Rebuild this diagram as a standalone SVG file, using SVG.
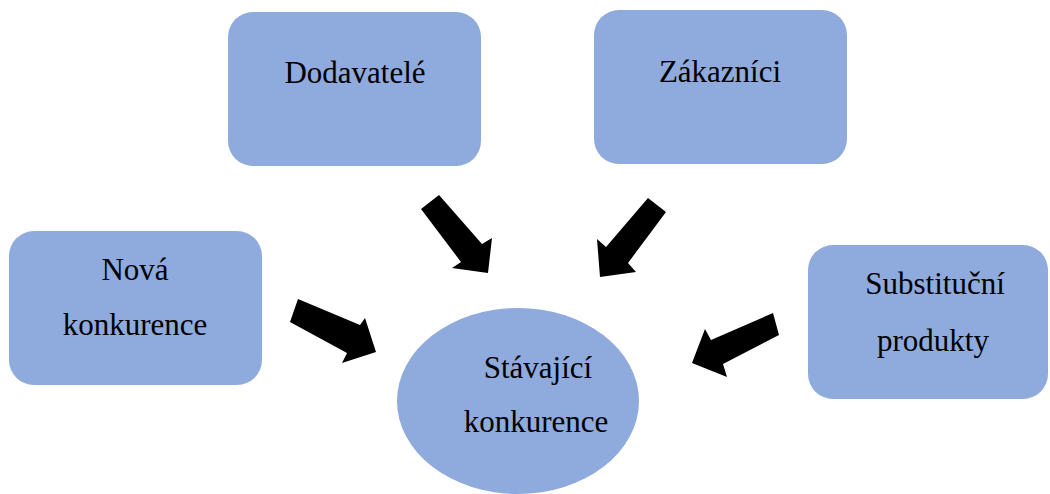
<svg xmlns="http://www.w3.org/2000/svg" width="1050" height="494" viewBox="0 0 1050 494">
<style>
.box{fill:#8FAADC;}
.t{font-family:"Liberation Serif","Times New Roman",serif;font-size:31px;fill:#000;text-anchor:middle;}
.arr{fill:#000;}
</style>
<rect width="1050" height="494" fill="#fff"/>
<g id="dodavatele">
<rect class="box" x="228" y="12" width="253" height="154" rx="25"/>
<text class="t" x="355" y="83">Dodavatelé</text>
</g>
<g id="zakaznici">
<rect class="box" x="594" y="10" width="253" height="154" rx="25"/>
<text class="t" x="720" y="82">Zákazníci</text>
</g>
<g id="nova-konkurence">
<rect class="box" x="9" y="231" width="253" height="154" rx="25"/>
<text class="t" x="135" y="280">Nová</text>
<text class="t" x="135" y="335">konkurence</text>
</g>
<g id="substitucni-produkty">
<rect class="box" x="808" y="245" width="240" height="154" rx="25"/>
<text class="t" x="935" y="294">Substituční</text>
<text class="t" x="933" y="351">produkty</text>
</g>
<g id="stavajici-konkurence">
<ellipse class="box" cx="518" cy="401" rx="121" ry="93"/>
<text class="t" x="538" y="378">Stávající</text>
<text class="t" x="536" y="432">konkurence</text>
</g>
<g id="connectors">
<polygon class="arr" points="421,209 439,195 482,244 492,238 488,273 452,268 461,262"/>
<polygon class="arr" points="648,198 666,212 628,263 636,272 600,277 597,239 606,247"/>
<polygon class="arr" points="298,299 360,325 365,318 376,352 342,363 347,353 290,322"/>
<polygon class="arr" points="773,313 779,335 723,364 727,377 692,363 705,329 711,340"/>
</g>
</svg>
